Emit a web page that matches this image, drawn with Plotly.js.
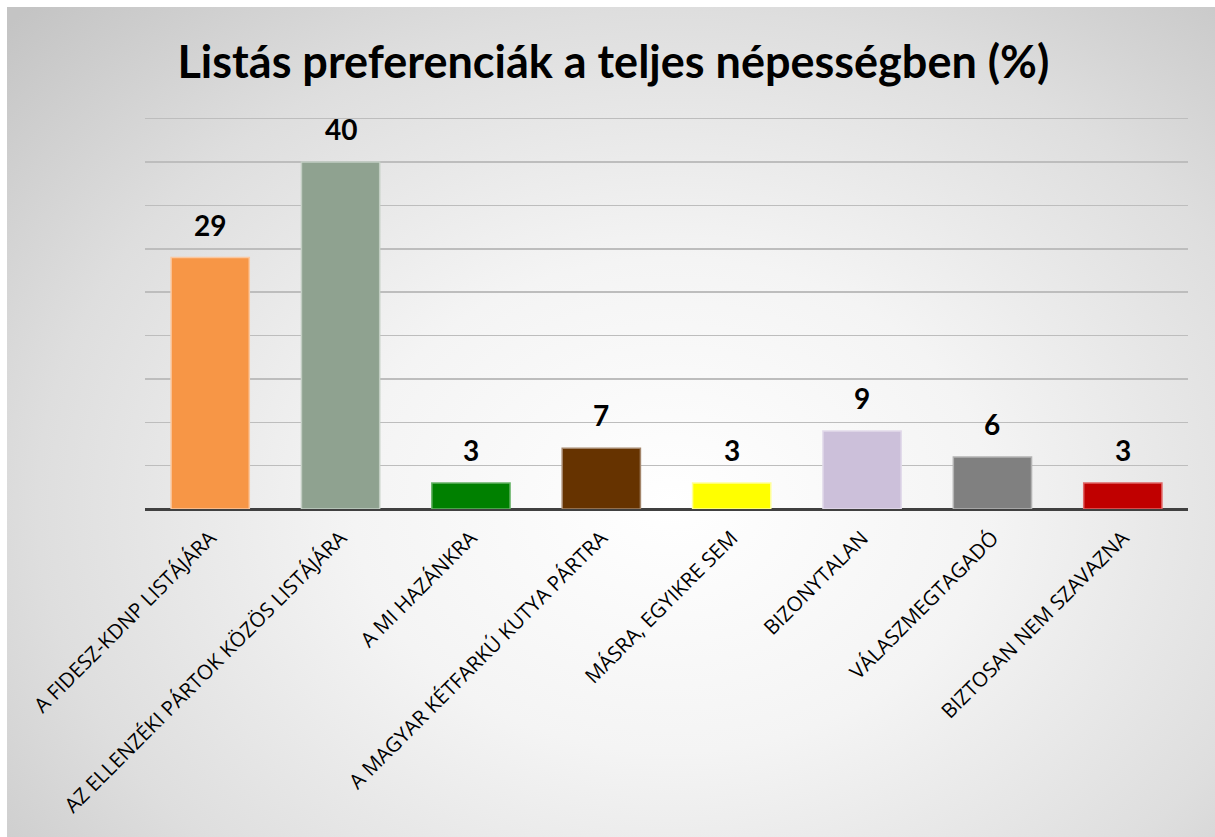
<!DOCTYPE html>
<html>
<head>
<meta charset="utf-8">
<script src="https://cdn.plot.ly/plotly-3.0.1.min.js"></script>
<style>
    body { margin: 0; background: #ffffff; }
    #prefBar {
        position: absolute;
        left: 7px;
        top: 7px;
        width: 1208px;
        height: 830px;
        background: radial-gradient(ellipse 75% 85% at 55% 60%, #ffffff 0%, #f4f4f4 35%, #dedede 70%, #c4c4c4 100%);
    }
</style>
</head>
<body>
<div id="prefBar"></div>
<script>
const categories = [
    'A FIDESZ-KDNP LISTÁJÁRA',
    'AZ ELLENZÉKI PÁRTOK KÖZÖS LISTÁJÁRA',
    'A MI HAZÁNKRA',
    'A MAGYAR KÉTFARKÚ KUTYA PÁRTRA',
    'MÁSRA, EGYIKRE SEM',
    'BIZONYTALAN',
    'VÁLASZMEGTAGADÓ',
    'BIZTOSAN NEM SZAVAZNA'
];
const shares = [29, 40, 3, 7, 3, 9, 6, 3];
const barColors = ['#F79646', '#8FA290', '#008000', '#663300', '#FFFF00', '#CCC0DA', '#808080', '#C00000'];
const edgeColors = ['#FBC8A0', '#C2CEC3', '#66B366', '#A3856A', '#FFFF99', '#E2DAEA', '#B3B3B3', '#E06666'];

function drawPreferences() {
    var trace1 = {
        x: categories,
        y: shares,
        type: 'bar',
        width: 0.6,
        hoverinfo: 'none',
        marker: {
            color: barColors,
            line: {
                color: edgeColors,
                width: 1.5
            }
        }
    };

    // value labels sit well above the bars, like the original
    var valueLabels = categories.map((cat, i) => ({
        x: cat,
        y: shares[i],
        text: `<b>${shares[i]}</b>`,
        showarrow: false,
        yanchor: 'bottom',
        yshift: 14,
        font: {
            family: 'Lato, "Open Sans", sans-serif',
            size: 28,
            color: '#000000'
        }
    }));

    var layout = {
        title: {
            text: '<b>Listás preferenciák a teljes népességben (%)</b>',
            font: {
                family: 'Lato, "Open Sans", sans-serif',
                size: 45,
                color: '#000000'
            },
            x: 0.502,
            xanchor: 'center',
            xref: 'container',
            y: 0.934,
            yanchor: 'middle',
            yref: 'container'
        },
        annotations: valueLabels,
        showlegend: false,
        paper_bgcolor: 'rgba(0,0,0,0)',
        plot_bgcolor: 'rgba(0,0,0,0)',
        margin: { l: 138, r: 27, t: 110, b: 328 },
        width: 1208,
        height: 830,
        bargap: 0.4,
        xaxis: {
            tickangle: -45,
            tickfont: {
                family: 'Open Sans',
                size: 20.5,
                color: '#000000'
            },
            ticklabelstandoff: 12,
            showgrid: false,
            ticks: '',
            showline: false
        },
        yaxis: {
            range: [0, 45.2],
            tickvals: [5, 10, 15, 20, 25, 30, 35, 40, 45],
            showticklabels: false,
            gridcolor: '#bdbdbd',
            gridwidth: 1.5,
            zeroline: true,
            zerolinecolor: '#404040',
            zerolinewidth: 3
        }
    };

    Plotly.newPlot('prefBar', [trace1], layout, { staticPlot: true });
}

drawPreferences();
</script>
</body>
</html>
